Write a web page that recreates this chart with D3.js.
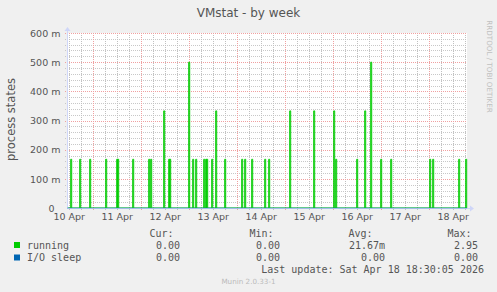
<!DOCTYPE html>
<html>
<head>
<meta charset="utf-8">
<script src="https://cdn.jsdelivr.net/npm/d3@7"></script>
<style>
  body { margin: 0; background: #f0f0f0; }
  text { white-space: pre; }
</style>
</head>
<body>
<svg id="graph"></svg>
<script>
/* global d3 */
const title = 'VMstat - by week'
const yLabel = 'process states'
const seriesNames = ['running', 'I/O sleep']
const seriesColors = ['#00cc00', '#0066b3']
// spikes of the "running" series (30 min samples), everything else is 0
const spikeTimes = [
  '2026-04-10T13:00', '2026-04-10T17:30', '2026-04-10T22:30', '2026-04-11T06:30',
  '2026-04-11T12:00', '2026-04-11T12:30', '2026-04-11T20:00', '2026-04-12T04:00',
  '2026-04-12T05:00', '2026-04-12T11:30', '2026-04-12T14:00', '2026-04-12T14:30',
  '2026-04-13T00:00', '2026-04-13T02:00', '2026-04-13T03:30', '2026-04-13T07:30',
  '2026-04-13T08:30', '2026-04-13T09:00', '2026-04-13T11:30', '2026-04-13T13:30',
  '2026-04-13T18:00', '2026-04-14T02:30', '2026-04-14T04:00', '2026-04-14T07:30',
  '2026-04-14T14:00', '2026-04-14T16:00', '2026-04-15T02:30', '2026-04-15T14:30',
  '2026-04-16T00:30', '2026-04-16T01:30', '2026-04-16T12:00', '2026-04-16T16:00',
  '2026-04-16T19:00', '2026-04-17T00:00', '2026-04-17T05:00', '2026-04-18T00:30',
  '2026-04-18T02:00', '2026-04-18T15:00', '2026-04-18T18:30'
]
const runningValues = [
  0.167, 0.167, 0.167, 0.167,
  0.167, 0.167, 0.167, 0.167,
  0.167, 0.333, 0.167, 0.167,
  0.5, 0.167, 0.167, 0.167,
  0.167, 0.167, 0.167, 0.333,
  0.167, 0.167, 0.167, 0.167,
  0.167, 0.167, 0.333, 0.333,
  0.333, 0.167, 0.167, 0.333,
  0.5, 0.167, 0.167, 0.167,
  0.167, 0.167, 0.167
]
const ioSleepValues = [0, 0]
const yTicks = [0, 0.1, 0.2, 0.3, 0.4, 0.5, 0.6]
const yTickLabels = ['0', '100 m', '200 m', '300 m', '400 m', '500 m', '600 m']
const xLabelDays = ['2026-04-10', '2026-04-11', '2026-04-12', '2026-04-13', '2026-04-14',
  '2026-04-15', '2026-04-16', '2026-04-17', '2026-04-18']
const xLabels = ['10 Apr', '11 Apr', '12 Apr', '13 Apr', '14 Apr', '15 Apr', '16 Apr', '17 Apr', '18 Apr']
const legendHeads = ['Cur:', 'Min:', 'Avg:', 'Max:']
const legendValues = [
  ['0.00', '0.00', '21.67m', '2.95'],
  ['0.00', '0.00', '0.00', '0.00']
]
const lastUpdate = 'Last update: Sat Apr 18 18:30:05 2026'
const version = 'Munin 2.0.33-1'

const W = 497
const H = 292
const margin = { top: 33, left: 67, right: 30, bottom: 84 }
const parse = d3.utcParse('%Y-%m-%dT%H:%M')
const parseDay = d3.utcParse('%Y-%m-%d')
const step = 30 * 60 * 1000

const tEnd = Date.UTC(2026, 3, 18, 19, 9)
const tStart = tEnd - 200 * 3600 * 1000

const x = d3.scaleUtc()
  .domain([new Date(tStart), new Date(tEnd)])
  .range([margin.left, W - margin.right])
const y = d3.scaleLinear()
  .domain([0, 0.6])
  .range([H - margin.bottom, margin.top])

const svg = d3.select('#graph').attr('width', W).attr('height', H)
svg.append('rect').attr('width', W).attr('height', H).attr('fill', '#f0f0f0')
svg.append('rect')
  .attr('x', x.range()[0]).attr('y', y.range()[1])
  .attr('width', x.range()[1] - x.range()[0])
  .attr('height', y.range()[0] - y.range()[1])
  .attr('fill', '#fff')

const x0 = x.range()[0]
const x1 = x.range()[1]
const y0 = y.range()[0]
const y1 = y.range()[1]

/** grid */
const grid = svg.append('g').attr('shape-rendering', 'crispEdges')
const minorY = y.ticks(30).filter(v => !yTicks.some(t => Math.abs(t - v) < 1e-9))
grid.selectAll('.hmin').data(minorY).enter().append('line')
  .attr('x1', x0 - 2).attr('x2', x1)
  .attr('y1', d => Math.round(y(d)) + 0.5).attr('y2', d => Math.round(y(d)) + 0.5)
  .attr('stroke', '#c8c8c8').attr('stroke-dasharray', '1,1')
const dayTicks = d3.utcDay.range(x.domain()[0], x.domain()[1])
const minorX = d3.utcHour.every(6).range(x.domain()[0], x.domain()[1])
  .filter(d => d.getUTCHours() !== 0)
grid.selectAll('.vmin').data(minorX).enter().append('line')
  .attr('x1', d => Math.round(x(d)) + 0.5).attr('x2', d => Math.round(x(d)) + 0.5)
  .attr('y1', y1).attr('y2', y0 + 2)
  .attr('stroke', '#c0c0c0').attr('stroke-dasharray', '1,1')
grid.selectAll('.hmaj').data(yTicks.slice(1)).enter().append('line')
  .attr('x1', x0 - 2).attr('x2', x1)
  .attr('y1', d => Math.round(y(d)) + 0.5).attr('y2', d => Math.round(y(d)) + 0.5)
  .attr('stroke', '#f0a0a0').attr('stroke-dasharray', '1,1')
grid.selectAll('.vmaj').data(dayTicks).enter().append('line')
  .attr('x1', d => Math.round(x(d)) + 0.5).attr('x2', d => Math.round(x(d)) + 0.5)
  .attr('y1', y1).attr('y2', y0 + 3)
  .attr('stroke', '#f0a0a0').attr('stroke-dasharray', '1,1')

/** series */
const runPts = [[x.domain()[0], 0]]
spikeTimes.forEach((s, i) => {
  const t = parse(s)
  const t2 = new Date(+t + step)
  runPts.push([t, 0], [t, runningValues[i]], [t2, runningValues[i]], [t2, 0])
})
runPts.push([x.domain()[1], 0])
const line = d3.line().x(d => x(d[0])).y(d => y(d[1]))
svg.append('path')
  .attr('d', line(runPts))
  .attr('fill', 'none')
  .attr('stroke', seriesColors[0])
  .attr('stroke-width', 1)

/** axes */
svg.append('line')
  .attr('x1', x0).attr('x2', x1 + 5).attr('y1', y0 + 0.5).attr('y2', y0 + 0.5)
  .attr('stroke', '#cfd6f8')
svg.append('line')
  .attr('x1', x0 + 0.5).attr('x2', x0 + 0.5).attr('y1', y0).attr('y2', y1 - 3)
  .attr('stroke', '#cfd6f8')
svg.append('path')
  .attr('d', `M${x1 + 3},${y0 - 2.5}L${x1 + 7},${y0 + 0.5}L${x1 + 3},${y0 + 3.5}Z`)
  .attr('fill', '#cfd6f8')
svg.append('path')
  .attr('d', `M${x0 - 2.5},${y1 - 2}L${x0 + 0.5},${y1 - 6}L${x0 + 3.5},${y1 - 2}Z`)
  .attr('fill', '#cfd6f8')

const ioPts = [[x.domain()[0], ioSleepValues[0]], [x.domain()[1], ioSleepValues[1]]]
svg.append('path')
  .attr('d', line(ioPts))
  .attr('fill', 'none')
  .attr('stroke', seriesColors[1])
  .attr('stroke-opacity', 0.45)
  .attr('stroke-width', 1)

const yAxis = d3.axisLeft(y)
  .tickValues(yTicks)
  .tickSize(0)
  .tickPadding(0)
  .tickFormat((d, i) => yTickLabels[i])
svg.append('g')
  .attr('transform', `translate(${x0 - 6.5},0)`)
  .call(yAxis)
  .call(g => g.select('.domain').remove())
  .selectAll('text')
  .attr('font-family', 'DejaVu Sans')
  .attr('font-size', 9.5)
  .attr('fill', '#555')
  .attr('dy', '0.34em')
  // rrdtool leaves room for the (empty) unit on the 0 label
  .attr('dx', (d, i) => (yTickLabels[i].endsWith('m') ? 0 : -6))

const xAxis = d3.axisBottom(x)
  .tickValues(xLabelDays.map(s => d3.utcHour.offset(parseDay(s), 12)))
  .tickSize(0)
  .tickPadding(0)
  .tickFormat((d, i) => xLabels[i])
svg.append('g')
  .attr('transform', `translate(0,${y0 + 5})`)
  .call(xAxis)
  .call(g => g.select('.domain').remove())
  .selectAll('text')
  .attr('font-family', 'DejaVu Sans')
  .attr('font-size', 9.5)
  .attr('fill', '#555')
  .attr('dy', '0.71em')

/** titles */
svg.append('text')
  .attr('x', 248.5).attr('y', 17)
  .attr('text-anchor', 'middle')
  .attr('font-family', 'DejaVu Sans').attr('font-size', 12)
  .attr('fill', '#555')
  .text(title)
svg.append('text')
  .attr('transform', `translate(14.5,${119.5}) rotate(-90)`)
  .attr('text-anchor', 'middle')
  .attr('font-family', 'DejaVu Sans').attr('font-size', 11.5)
  .attr('fill', '#555')
  .text(yLabel)
svg.append('text')
  .attr('transform', 'translate(487,66.5) rotate(90)')
  .attr('text-anchor', 'middle')
  .attr('font-family', 'DejaVu Sans').attr('font-size', 7.2)
  .attr('fill', '#c0c0c0')
  .text('RRDTOOL / TOBI OETIKER')

/** legend */
const mono = 'DejaVu Sans Mono'
const headX = [149.5, 249.5, 348.5, 447.5]
const valX = [180, 280, 385, 478]
const legend = svg.append('g').attr('font-family', mono).attr('font-size', 10).attr('fill', '#555')
legend.selectAll('.head').data(legendHeads).enter().append('text')
  .attr('x', (d, i) => headX[i]).attr('y', 237)
  .text(d => d)
seriesNames.forEach((name, r) => {
  const yy = 248.5 + r * 12.5
  legend.append('rect')
    .attr('x', 14).attr('y', yy - 6.5).attr('width', 6).attr('height', 6)
    .attr('fill', seriesColors[r])
  legend.append('text').attr('x', 27).attr('y', yy).text(name)
  legend.selectAll(null).data(legendValues[r]).enter().append('text')
    .attr('x', (d, i) => valX[i]).attr('y', yy)
    .attr('text-anchor', 'end')
    .text(d => d)
})
legend.append('text')
  .attr('x', 484).attr('y', 273)
  .attr('text-anchor', 'end')
  .text(lastUpdate)
svg.append('text')
  .attr('x', 248.5).attr('y', 284)
  .attr('text-anchor', 'middle')
  .attr('font-family', 'DejaVu Sans').attr('font-size', 7.2)
  .attr('fill', '#bbb')
  .text(version)
</script>
</body>
</html>
